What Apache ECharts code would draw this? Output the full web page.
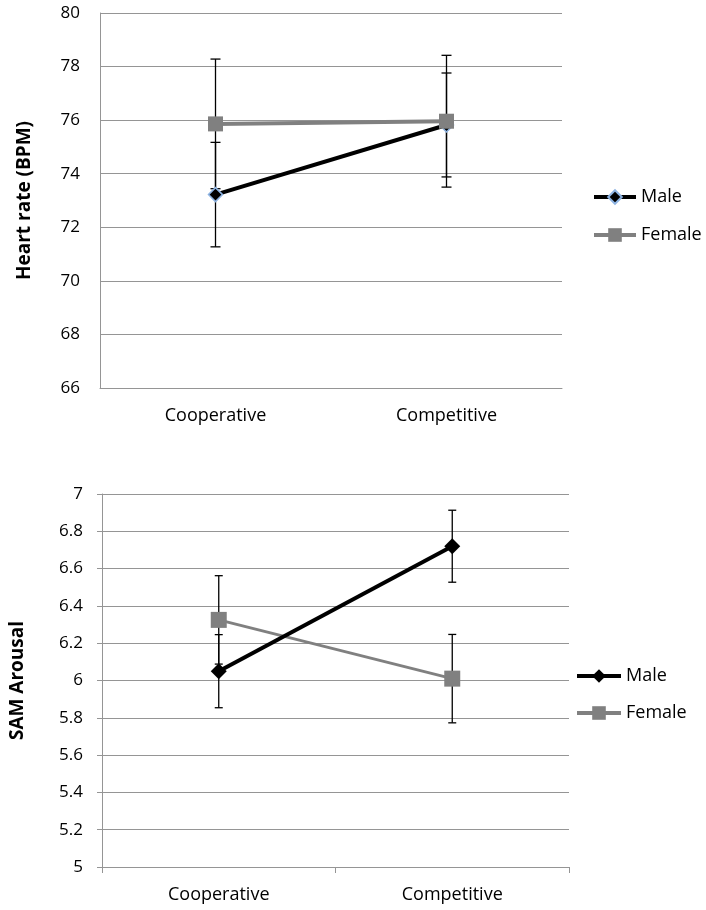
<!DOCTYPE html>
<html>
<head>
<meta charset="utf-8">
<script src="https://cdn.jsdelivr.net/npm/echarts@6/dist/echarts.min.js"></script>
<style>
html,body{margin:0;padding:0;background:#fff;}
#c{width:706px;height:910px;}
</style>
</head>
<body>
<div id="c"></div>
<script>
const categories = ['Cooperative', 'Competitive'];
const hrTicks = [66, 80, 2];
const samTicks = [5, 7, 0.2];
const hrMale = [73.22, 75.82];
const hrMaleErr = [1.95, 1.94];
const hrFemale = [75.86, 75.96];
const hrFemaleErr = [2.42, 2.46];
const samMale = [6.05, 6.72];
const samMaleErr = [0.196, 0.193];
const samFemale = [6.325, 6.01];
const samFemaleErr = [0.237, 0.237];

const FONT = 'Open Sans';
const GRID_COLOR = '#959595';

function errData(vals, errs) {
  return vals.map((v, i) => [i, v - errs[i], v + errs[i]]);
}
function errRender(half) {
  return function (params, api) {
    const x = api.value(0), lo = api.value(1), hi = api.value(2);
    const p1 = api.coord([x, hi]), p2 = api.coord([x, lo]);
    const st = { stroke: '#000', lineWidth: 1.3 };
    return {
      type: 'group',
      children: [
        { type: 'line', shape: { x1: p1[0], y1: p1[1], x2: p2[0], y2: p2[1] }, style: st },
        { type: 'line', shape: { x1: p1[0] - half, y1: p1[1], x2: p1[0] + half, y2: p1[1] }, style: st },
        { type: 'line', shape: { x1: p2[0] - half, y1: p2[1], x2: p2[0] + half, y2: p2[1] }, style: st }
      ]
    };
  };
}

const chart = echarts.init(document.getElementById('c'), null, { renderer: 'canvas' });

const yLabelStyle = { color: '#000', fontFamily: FONT, fontSize: 17 };
const xLabelStyle = { color: '#000', fontFamily: FONT, fontSize: 18 };
const nameStyle = { color: '#000', fontFamily: FONT, fontSize: 19, fontWeight: 'bold' };
const legendText = { color: '#000', fontFamily: FONT, fontSize: 18 };

const option = {
  backgroundColor: '#fff',
  animation: false,
  grid: [
    { left: 100, top: 13, width: 462, height: 375 },
    { left: 99, top: 494, width: 470, height: 373 }
  ],
  xAxis: [
    {
      gridIndex: 0, type: 'category', data: categories, boundaryGap: true,
      axisLine: { show: true, lineStyle: { color: GRID_COLOR, width: 1 } },
      axisTick: { show: false },
      axisLabel: Object.assign({ margin: 19 }, xLabelStyle),
      splitLine: { show: false }
    },
    {
      gridIndex: 1, type: 'category', data: categories, boundaryGap: true,
      axisLine: { show: true, lineStyle: { color: GRID_COLOR, width: 1 } },
      axisTick: { show: true, length: 6, lineStyle: { color: GRID_COLOR } },
      axisLabel: Object.assign({ margin: 19 }, xLabelStyle),
      splitLine: { show: false }
    }
  ],
  yAxis: [
    {
      gridIndex: 0, type: 'value', min: hrTicks[0], max: hrTicks[1], interval: hrTicks[2],
      name: 'Heart rate (BPM)', nameLocation: 'middle', nameGap: 66, nameTextStyle: nameStyle,
      axisLine: { show: true, lineStyle: { color: GRID_COLOR, width: 1 } },
      axisTick: { show: false },
      axisLabel: Object.assign({ margin: 20 }, yLabelStyle),
      splitLine: { show: true, lineStyle: { color: GRID_COLOR, width: 1 } }
    },
    {
      gridIndex: 1, type: 'value', min: samTicks[0], max: samTicks[1], interval: samTicks[2],
      name: 'SAM Arousal', nameLocation: 'middle', nameGap: 75, nameTextStyle: nameStyle,
      axisLine: { show: true, lineStyle: { color: GRID_COLOR, width: 1 } },
      axisTick: { show: true, length: 5, lineStyle: { color: GRID_COLOR } },
      axisLabel: Object.assign({ margin: 19 }, yLabelStyle),
      splitLine: { show: true, lineStyle: { color: GRID_COLOR, width: 1 } }
    }
  ],
  legend: [
    {
      orient: 'vertical', left: 592, top: 188, padding: 0, itemGap: 20, itemWidth: 42, itemHeight: 17,
      data: ['Male|hr', 'Female|hr'],
      formatter: n => n.split('|')[0],
      textStyle: legendText,
      lineStyle: { width: 4 },
      selectedMode: false
    },
    {
      orient: 'vertical', left: 575, top: 667, padding: 0, itemGap: 19, itemWidth: 44, itemHeight: 17,
      data: ['Male|sam', 'Female|sam'],
      formatter: n => n.split('|')[0],
      textStyle: legendText,
      lineStyle: { width: 4 },
      selectedMode: false
    }
  ],
  series: [
    {
      name: 'errM_hr', type: 'custom', xAxisIndex: 0, yAxisIndex: 0, z: 1,
      renderItem: errRender(5), data: errData(hrMale, hrMaleErr), encode: { x: 0, y: [1, 2] }, silent: true
    },
    {
      name: 'errF_hr', type: 'custom', xAxisIndex: 0, yAxisIndex: 0, z: 1,
      renderItem: errRender(5), data: errData(hrFemale, hrFemaleErr), encode: { x: 0, y: [1, 2] }, silent: true
    },
    {
      name: 'Male|hr', type: 'line', xAxisIndex: 0, yAxisIndex: 0, z: 3, data: hrMale,
      symbol: 'diamond', symbolSize: 14, showAllSymbol: true,
      lineStyle: { color: '#000', width: 4 },
      itemStyle: { color: '#000', borderColor: '#8db3e2', borderWidth: 1.5 }
    },
    {
      name: 'Female|hr', type: 'line', xAxisIndex: 0, yAxisIndex: 0, z: 4, data: hrFemale,
      symbol: 'rect', symbolSize: 15,
      lineStyle: { color: '#808080', width: 4 },
      itemStyle: { color: '#808080', borderWidth: 0 }
    },
    {
      name: 'errM_sam', type: 'custom', xAxisIndex: 1, yAxisIndex: 1, z: 1,
      renderItem: errRender(4), data: errData(samMale, samMaleErr), encode: { x: 0, y: [1, 2] }, silent: true
    },
    {
      name: 'errF_sam', type: 'custom', xAxisIndex: 1, yAxisIndex: 1, z: 1,
      renderItem: errRender(4), data: errData(samFemale, samFemaleErr), encode: { x: 0, y: [1, 2] }, silent: true
    },
    {
      name: 'Female|sam', type: 'line', xAxisIndex: 1, yAxisIndex: 1, z: 3, data: samFemale,
      symbol: 'rect', symbolSize: 16,
      lineStyle: { color: '#808080', width: 3 },
      itemStyle: { color: '#808080', borderWidth: 0 }
    },
    {
      name: 'Male|sam', type: 'line', xAxisIndex: 1, yAxisIndex: 1, z: 4, data: samMale,
      symbol: 'diamond', symbolSize: 16,
      lineStyle: { color: '#000', width: 4 },
      itemStyle: { color: '#000', borderWidth: 0 }
    }
  ]
};
chart.setOption(option);
</script>
</body>
</html>
